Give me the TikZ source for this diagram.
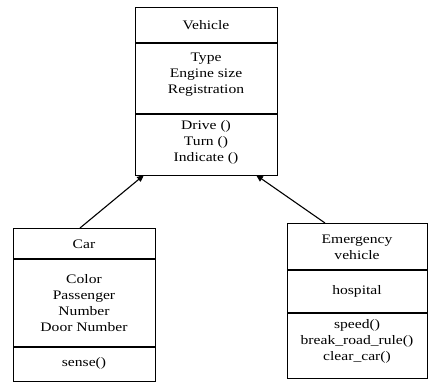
\documentclass[tikz,border=0pt]{standalone}
\usepackage{fontspec}
\setmainfont{Liberation Serif}[FakeStretch=1.2]
\usetikzlibrary{arrows.meta}
\tikzset{
  umlbox/.style={draw, line width=1.1pt, inner sep=0pt, anchor=north west},
  divider/.style={line width=1.3pt},
  txt/.style={align=center, font=\fontsize{13}{16}\selectfont, inner sep=0pt},
  inherit/.style={line width=1.1pt, -{Triangle[length=7pt,width=6pt]}}
}
\begin{document}
\begin{tikzpicture}[x=1pt,y=-1pt]
\useasboundingbox (0,0) rectangle (429,383);
% Vehicle
\node[umlbox, minimum width=142pt, minimum height=168pt] (veh) at (135,7) {};
\draw[divider] (135,43) -- (277,43);
\draw[divider] (135,114) -- (277,114);
\node[txt] (vehname) at (206,25) {Vehicle};
\node[txt] (vehattr) at (206,75) {Type\\Engine size\\Registration};
\node[txt] (vehops) at (206,142) {Drive ()\\Turn ()\\Indicate ()};
% Car
\node[umlbox, minimum width=142pt, minimum height=153pt] (car) at (13,228) {};
\draw[divider] (13,259) -- (155,259);
\draw[divider] (13,347) -- (155,347);
\node[txt] (carname) at (84,244) {Car};
\node[txt] (carattr) at (84,303) {Color\\Passenger\\Number\\Door Number};
\node[txt] (carops) at (84,363) {sense()};
% Emergency vehicle
\node[umlbox, minimum width=140pt, minimum height=155pt] (emg) at (287,223) {};
\draw[divider] (287,270) -- (427,270);
\draw[divider] (287,313) -- (427,313);
\node[txt] (emgname) at (357,247) {Emergency\\vehicle};
\node[txt] (emgattr) at (357,291) {hospital};
\node[txt] (emgops) at (357,341) {speed()\\break\_road\_rule()\\clear\_car()};
% connectors
\coordinate (carTop) at (80,228);
\coordinate (vehL) at (144,175);
\coordinate (emgTop) at (325,223);
\coordinate (vehR) at (256,175);
\draw[inherit] (carTop) -- (vehL);
\draw[inherit] (emgTop) -- (vehR);
\end{tikzpicture}
\end{document}
